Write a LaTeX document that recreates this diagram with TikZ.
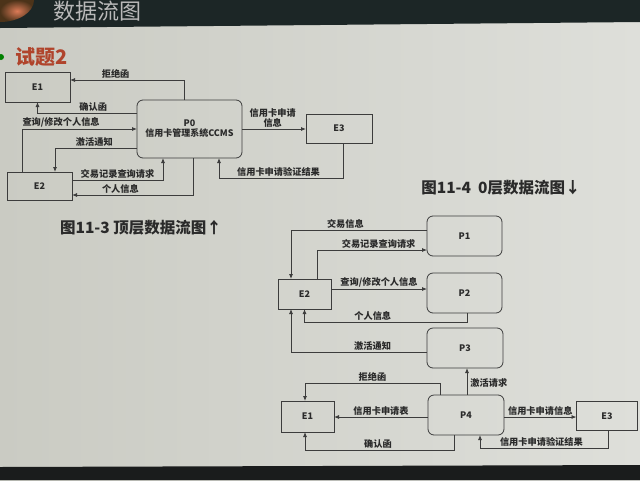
\documentclass[tikz,border=0pt]{standalone}
\usepackage{fontspec}
\setmainfont{Noto Sans CJK SC}
\usetikzlibrary{arrows.meta,calc}
\definecolor{bgl}{HTML}{CACBC3}
\definecolor{bgr}{HTML}{DEDFDA}
\definecolor{topc}{HTML}{1C2626}
\definecolor{botc}{HTML}{1A1C1C}
\definecolor{linec}{HTML}{3C3C3C}
\definecolor{txtc}{HTML}{2A2A2A}
\definecolor{redc}{HTML}{B0442C}
\begin{document}
\begin{tikzpicture}[x=1pt,y=-1pt,
  ent/.style={draw=linec,line width=0.8pt,inner sep=0pt,outer sep=0pt,text=txtc,
    font=\bfseries\fontsize{9}{10}\selectfont,align=center},
  proc/.style={ent,rounded corners=6pt},
  arr/.style={draw=linec,line width=0.8pt,-{Latex[length=5pt,width=4pt]}},
  lbl/.style={font=\bfseries\fontsize{9.2}{10}\selectfont,text=txtc,inner sep=1.5pt,anchor=south,align=center},
  figcap/.style={font=\bfseries\fontsize{15.5}{16}\selectfont,text=txtc}]
\useasboundingbox (0,0) rectangle (640,480);
\shade[left color=bgl,right color=bgr] (0,0) rectangle (640,480);
\fill[topc] (0,0) -- (640,0) -- (640,22) -- (0,28) -- cycle;
\fill[botc] (0,467) -- (640,465) -- (640,480) -- (0,480) -- cycle;
\shade[inner color=brown!70!red!80,outer color=brown!40!black] (0,0) -- (34,0) arc[start angle=0,end angle=-90,x radius=34pt,y radius=22pt] -- cycle;
\node[text=gray!55,font=\fontsize{22}{22}\selectfont,anchor=base west,inner sep=0pt] (title) at (53,19) {数据流图};
\fill[green!50!black] (1,57) circle (3pt);
\node[text=redc,font=\bfseries\fontsize{20}{21}\selectfont,anchor=west,inner sep=0pt] (st) at (15,57) {试题2};

% ---------- top-level diagram ----------
\node[ent,minimum width=65pt,minimum height=30pt] (E1) at (37.5,87) {E1};
\node[proc,minimum width=105pt,minimum height=58pt] (P0) at (189.5,129) {P0\\信用卡管理系统CCMS};
\node[ent,minimum width=66pt,minimum height=29pt] (E3) at (339,128.5) {E3};
\node[ent,minimum width=65pt,minimum height=28pt] (E2) at (39.5,186) {E2};

\draw[arr] ([xshift=-5.5pt]P0.north) |- ([yshift=7pt]E1.east) node[lbl,pos=0.8] {拒绝函};
\draw[arr] ([yshift=16pt]P0.west) -| (E1.south) node[lbl,pos=0.22] {确认函};
\draw[arr] ([xshift=-17.5pt]E2.north) |- (P0.west) node[lbl,pos=0.67] {查询/修改个人信息};
\draw[arr] ([yshift=-19pt]P0.west) -| ([xshift=15.5pt]E2.north) node[lbl,pos=0.26] {激活通知};
\draw[arr] ([yshift=6pt]E2.east) -| ([xshift=-26.5pt]P0.south) node[lbl,pos=0.25] {交易记录查询请求};
\draw[arr] ([xshift=3.5pt]P0.south) |- ([yshift=-9pt]E2.east) node[lbl,pos=0.8] {个人信息};
\draw[arr] (P0.east) -- (P0.east -| E3.west) node[lbl,pos=0.48] {信用卡申请\\信息};
\draw[arr] ([xshift=4pt]E3.south) -- ++(0,35) -| ([xshift=29.5pt]P0.south) node[lbl,pos=0.26] {信用卡申请验证结果};

\node[figcap] (c1) at (141,228) {图11-3 顶层数据流图↑};
\node[figcap] (c2) at (501,188) {图11-4\ \ 0层数据流图↓};

% ---------- level-0 diagram ----------
\node[proc,minimum width=75pt,minimum height=40pt] (P1) at (464.5,236) {P1};
\node[proc,minimum width=75pt,minimum height=40pt] (P2) at (464.5,293) {P2};
\node[proc,minimum width=76pt,minimum height=40pt] (P3) at (465,348) {P3};
\node[proc,minimum width=76pt,minimum height=40pt] (P4) at (466,415) {P4};
\node[ent,minimum width=53pt,minimum height=30pt] (F2) at (304.5,294) {E2};
\node[ent,minimum width=53pt,minimum height=31pt] (F1) at (307.5,416.5) {E1};
\node[ent,minimum width=61pt,minimum height=29pt] (F3) at (607,416) {E3};

\draw[arr] ([yshift=6pt]P1.west) -| ([xshift=-13.5pt]F2.north) node[lbl,pos=0.3] {交易信息};
\draw[arr] ([xshift=12.5pt]F2.north) |- ([yshift=-14pt]P1.west) node[lbl,pos=0.78] {交易记录查询请求};
\draw[arr] ([yshift=5pt]F2.east) -- ([yshift=4pt]P2.west) node[lbl,pos=0.5] {查询/修改个人信息};
\draw[arr] ([xshift=2.5pt]P2.south) -- ++(0,9) -| (F2.south) node[lbl,pos=0.29] {个人信息};
\draw[arr] ([yshift=-4pt]P3.west) -| ([xshift=-13.5pt]F2.south) node[lbl,pos=0.2] {激活通知};
\draw[arr] ([xshift=-26pt]P4.north) -- ++(0,-12) -| ([xshift=-2.5pt]F1.north) node[lbl,pos=0.25] {拒绝函};
\draw[arr] ([xshift=1pt]P4.north) -- ([xshift=2pt]P3.south) node[lbl,pos=0.45,anchor=west,inner sep=3pt] {激活请求};
\draw[arr] ([yshift=-2pt]P4.west) -- ([yshift=-2pt]P4.west -| F1.east) node[lbl,pos=0.5] {信用卡申请表};
\draw[arr] ([xshift=-12pt]P4.south) -- ++(0,15) -| ([xshift=-2.5pt]F1.south) node[lbl,pos=0.255] {确认函};
\draw[arr] ([yshift=-2pt]P4.east) -- ([yshift=-2pt]P4.east -| F3.west) node[lbl,pos=0.5] {信用卡申请信息};
\draw[arr] ([xshift=1pt]F3.south) -- ++(0,17.5) -| ([xshift=14pt]P4.south) node[lbl,pos=0.26] {信用卡申请验证结果};
\end{tikzpicture}
\end{document}
